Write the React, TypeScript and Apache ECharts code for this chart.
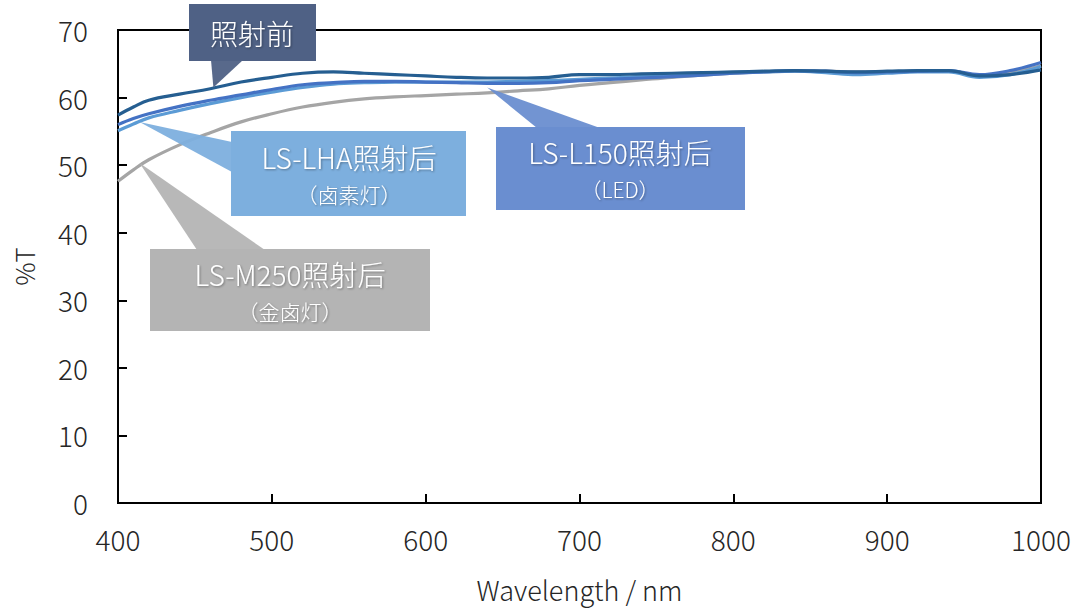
import React, { useEffect, useRef } from "react";
import * as echarts from "echarts";

// ---- data ----
const wavelengths = [400, 410, 420, 440, 460, 480, 500, 520, 540, 560, 580, 600, 620, 640, 660, 680, 700, 720, 740, 760, 780, 800, 820, 840, 860, 880, 900, 920, 940, 960, 980, 1000];

const beforeT = [57.4, 58.6, 59.6, 60.5, 61.3, 62.3, 63.0, 63.6, 63.8, 63.6, 63.4, 63.2, 63.0, 62.9, 62.9, 63.0, 63.4, 63.4, 63.5, 63.6, 63.7, 63.8, 63.9, 64.0, 63.9, 63.8, 63.9, 64.0, 64.0, 63.2, 63.4, 64.1];
const l150T = [56.0, 56.9, 57.6, 58.7, 59.6, 60.4, 61.2, 61.9, 62.2, 62.4, 62.4, 62.3, 62.2, 62.1, 62.1, 62.2, 62.5, 62.7, 62.9, 63.1, 63.3, 63.6, 63.8, 64.0, 63.9, 63.7, 63.8, 63.9, 64.0, 63.4, 64.0, 65.2];
const lhaT = [55.1, 56.1, 57.0, 58.1, 59.1, 60.0, 60.8, 61.5, 62.0, 62.2, 62.3, 62.3, 62.3, 62.3, 62.4, 62.5, 62.7, 62.9, 63.1, 63.3, 63.5, 63.7, 63.8, 63.9, 63.7, 63.4, 63.6, 63.8, 63.8, 63.0, 63.4, 64.6];
const m250T = [47.6, 49.3, 50.8, 53.0, 54.8, 56.4, 57.6, 58.6, 59.3, 59.8, 60.1, 60.3, 60.5, 60.7, 61.0, 61.3, 61.8, 62.2, 62.6, 63.0, 63.3, 63.6, 63.8, 63.9, 63.9, 63.8, 63.8, 63.9, 63.9, 63.3, 63.7, 64.7];

const seriesNames = ["LS-M250照射后", "LS-LHA照射后", "LS-L150照射后", "照射前"];

const xTicks = [400, 500, 600, 700, 800, 900, 1000];
const yTicks = [0, 10, 20, 30, 40, 50, 60, 70];

// callouts: title, subtitle, anchor (nm, %T)
const calloutTitles = ["照射前", "LS-LHA照射后", "LS-L150照射后", "LS-M250照射后"];
const calloutSubtitles = ["", "（卤素灯）", "（LED）", "（金卤灯）"];
const calloutAnchorNm = [462, 414, 640, 414];
const calloutAnchorT = [61.5, 56.4, 61.5, 50.3];

const FONT = '"Noto Sans CJK JP", "Noto Sans", sans-serif';
const WEIGHT = 300;

// layout of the callout boxes (pixels)
const boxLayout = [
  { x: 189, y: 4, w: 127, h: 57, color: "#4F6185", tx: 252, ty: 33, sy: 0, base: [[211, 60], [243, 60]] },
  { x: 231, y: 131, w: 235, h: 85, color: "#7DAFDE", tx: 349, ty: 157, sy: 194, base: [[232, 142], [232, 172]] },
  { x: 496, y: 127, w: 249, h: 83, color: "#6A8ED0", tx: 620, ty: 152, sy: 189, base: [[537, 128], [600, 128]] },
  { x: 150, y: 249, w: 280, h: 82, color: "#B4B4B4", tx: 290, ty: 274, sy: 311, base: [[197, 250], [265, 250]] },
];

const lineColors = ["#A5A5A5", "#5B9BD5", "#4472C4", "#255E91"];

export default function App() {
  const ref = useRef<HTMLDivElement>(null);
  useEffect(() => {
    if (!ref.current) return;
    const chart = echarts.init(ref.current, undefined, { renderer: "svg" });
    const seriesData = [m250T, lhaT, l150T, beforeT];
    chart.setOption({
      animation: false,
      textStyle: { fontFamily: FONT, fontWeight: WEIGHT },
      grid: {
        left: 118,
        right: 39,
        top: 30,
        bottom: 107,
        show: true,
        borderColor: "#000",
        borderWidth: 2,
        backgroundColor: "transparent",
      },
      xAxis: {
        type: "value",
        min: 400,
        max: 1000,
        interval: 100,
        name: "Wavelength / nm",
        nameLocation: "middle",
        nameGap: 73,
        nameTextStyle: { fontSize: 27, color: "#262626", fontFamily: FONT, fontWeight: WEIGHT },
        axisLine: { show: true, lineStyle: { color: "#000", width: 2 } },
        axisTick: { show: true, inside: true, length: 9, lineStyle: { color: "#000", width: 2 } },
        axisLabel: {
          fontSize: 28,
          color: "#262626",
          margin: 22,
          fontFamily: FONT,
          fontWeight: WEIGHT,
          formatter: (v: number) => (xTicks.includes(v) ? String(v) : ""),
        },
        splitLine: { show: false },
      },
      yAxis: {
        type: "value",
        min: 0,
        max: 70,
        interval: 10,
        name: "%T",
        nameLocation: "middle",
        nameGap: 82,
        nameTextStyle: { fontSize: 26, color: "#262626", fontFamily: FONT, fontWeight: WEIGHT },
        axisLine: { show: true, lineStyle: { color: "#000", width: 2 } },
        axisTick: { show: true, inside: true, length: 9, lineStyle: { color: "#000", width: 2 } },
        axisLabel: {
          fontSize: 28,
          color: "#262626",
          margin: 30,
          fontFamily: FONT,
          fontWeight: WEIGHT,
          formatter: (v: number) => (yTicks.includes(v) ? String(v) : ""),
        },
        splitLine: { show: false },
      },
      series: seriesNames.map((name, i) => ({
        name,
        type: "line",
        smooth: 0.4,
        showSymbol: false,
        symbol: "none",
        lineStyle: { color: lineColors[i], width: 3.2 },
        data: wavelengths.map((w, k) => [w, seriesData[i][k]]),
        z: 2 + i,
      })),
    });

    const graphics: any[] = [];
    calloutTitles.forEach((title, i) => {
      const b = boxLayout[i];
      const tip = chart.convertToPixel({ gridIndex: 0 }, [calloutAnchorNm[i], calloutAnchorT[i]]) as number[];
      graphics.push({
        type: "polygon",
        shape: { points: [tip, b.base[0], b.base[1]] },
        style: { fill: b.color, opacity: 0.95 },
        z: 100,
      });
      graphics.push({
        type: "rect",
        shape: { x: b.x, y: b.y, width: b.w, height: b.h },
        style: { fill: b.color },
        z: 101,
      });
      graphics.push({
        type: "text",
        x: b.tx,
        y: b.ty,
        style: {
          text: title,
          fill: "#fff",
          font: `${WEIGHT} 28px ${FONT}`,
          align: "center",
          verticalAlign: "middle",
          textShadowColor: "rgba(0,0,0,0.35)",
          textShadowBlur: 2,
          textShadowOffsetX: 1,
          textShadowOffsetY: 1,
        },
        z: 102,
      });
      if (calloutSubtitles[i]) {
        graphics.push({
          type: "text",
          x: b.tx,
          y: b.sy,
          style: {
            text: calloutSubtitles[i],
            fill: "#fff",
            font: `${WEIGHT} 21px ${FONT}`,
            align: "center",
            verticalAlign: "middle",
            textShadowColor: "rgba(0,0,0,0.35)",
            textShadowBlur: 2,
            textShadowOffsetX: 1,
            textShadowOffsetY: 1,
          },
          z: 102,
        });
      }
    });
    chart.setOption({ graphic: graphics });

    return () => chart.dispose();
  }, []);

  return <div ref={ref} style={{ width: 1080, height: 610, position: "absolute", left: 0, top: 0 }} />;
}
